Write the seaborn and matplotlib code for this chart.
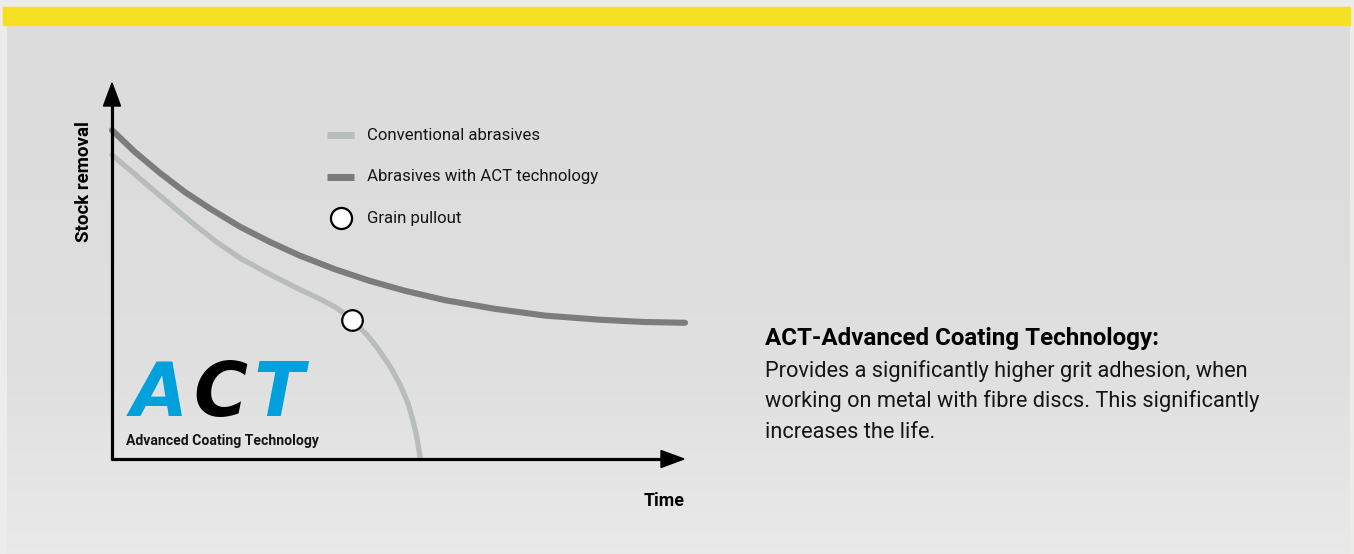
import numpy as np
import pandas as pd
import matplotlib
matplotlib.use("Agg")
import matplotlib.pyplot as plt
import seaborn as sns
from matplotlib.patches import Rectangle, Polygon

# curves (time / stock removal, arbitrary units 0..100)
time_act = [0, 4.0, 8.4, 12.7, 17.1, 22.3, 27.6, 32.8, 38.9, 45.0, 51.1, 58.1,
            66.8, 75.6, 85.2, 93.0, 100]
stock_act = [87.5, 81.7, 76.1, 71.1, 66.7, 61.9, 57.8, 54.2, 50.6, 47.5, 44.9,
             42.4, 40.1, 38.3, 37.2, 36.6, 36.4]

time_conv = [0, 3.3, 6.6, 10.1, 13.6, 18.0, 22.3, 27.6, 32.8, 36.3, 38.9, 40.7,
             41.9, 43.3, 44.5, 46.2, 48.5, 50.3, 51.7, 52.5, 53.2, 53.8]
stock_conv = [80.9, 76.7, 72.4, 67.9, 63.4, 58.1, 53.6, 49.2, 45.2, 42.7, 40.6,
              38.7, 37.1, 35.0, 33.2, 30.0, 24.9, 19.9, 14.9, 10.6, 6.1, 0.5]

pullout_time = [41.9]
pullout_stock = [37.1]

legend_labels = ["Conventional abrasives", "Abrasives with ACT technology", "Grain pullout"]
heading = "ACT-Advanced Coating Technology:"
body_lines = ["Provides a significantly higher grit adhesion, when",
              "working on metal with fibre discs. This significantly",
              "increases the life."]

c_conv = "#b9bcbc"
c_act = "#7b7c7d"
c_blue = "#00a0dc"
c_text = "#151515"

sns.set_theme(style="white")
plt.rcParams["font.family"] = ["Roboto", "DejaVu Sans"]

W, H = 1354, 554
fig = plt.figure(figsize=(W / 100, H / 100), dpi=100, facecolor="#ececeb")

# background panel
bg = fig.add_axes([0, 0, 1, 1], zorder=0)
bg.set_xlim(0, W)
bg.set_ylim(H, 0)
bg.axis("off")
grad = np.linspace(0, 1, 100)[:, None]
bg.imshow(grad, cmap=matplotlib.colors.LinearSegmentedColormap.from_list(
    "g", ["#dcdcdc", "#dddddd", "#e0e0e0", "#e9e9e9"]),
    extent=[7, 1350, 554, 25], aspect="auto", zorder=1)
bg.add_patch(Rectangle((3, 7), 1347, 18, color="#f5e121", zorder=2))

# chart area
ax = fig.add_axes([112 / W, (H - 460) / H, 573 / W, 377 / H], zorder=1)
ax.patch.set_alpha(0)
df_act = pd.DataFrame({"time": time_act, "stock": stock_act})
df_conv = pd.DataFrame({"time": time_conv, "stock": stock_conv})
sns.lineplot(data=df_conv, x="time", y="stock", ax=ax, color=c_conv, linewidth=3.8,
             estimator=None, sort=False, clip_on=False, solid_joinstyle="round")
sns.lineplot(data=df_act, x="time", y="stock", ax=ax, color=c_act, linewidth=4.4,
             estimator=None, sort=False, clip_on=False, solid_joinstyle="round")
sns.scatterplot(x=pullout_time, y=pullout_stock, ax=ax, s=220, color="white",
                edgecolor="black", linewidth=1.6, zorder=5, clip_on=False)
ax.set_xlim(0, 100)
ax.set_ylim(0, 100)
ax.axis("off")

# overlay: axes arrows, legend, texts
ov = fig.add_axes([0, 0, 1, 1], zorder=2)
ov.patch.set_alpha(0)
ov.set_xlim(0, W)
ov.set_ylim(H, 0)
ov.axis("off")

ov.plot([112, 112], [460, 100], color="black", lw=2.3, solid_capstyle="butt")
ov.plot([110.5, 665], [459, 459], color="black", lw=2.3, solid_capstyle="butt")
ov.add_patch(Polygon([[112, 83], [103.5, 106], [120.5, 106]], color="black"))
ov.add_patch(Polygon([[684, 459], [661, 450.5], [661, 467.5]], color="black"))

ov.text(84, 182, "Stock removal", rotation=90, ha="center", va="center",
        fontsize=13.5, fontweight="bold", color="black")
ov.text(685, 501, "Time", ha="right", va="center", fontsize=12.8,
        fontweight="bold", color="black")

# legend
ov.plot([327, 354], [135, 135], color=c_conv, lw=5, solid_capstyle="butt")
ov.plot([327, 354], [177, 177], color=c_act, lw=5, solid_capstyle="butt")
ov.scatter([341], [218], s=230, color="white", edgecolor="black", linewidth=1.6)
for yy, lab in zip([135, 177, 218], legend_labels):
    ov.text(367, yy, lab, ha="left", va="center", fontsize=12.1, color=c_text)

# ACT logo
for xx, ch, col in [(131, "A", c_blue), (193, "C", "black"), (253, "T", c_blue)]:
    ov.text(xx, 416, ch, ha="left", va="baseline", fontsize=53, color=col,
            family="DejaVu Sans", fontweight="heavy", style="oblique")
ov.text(126, 441, "Advanced Coating Technology", ha="left", va="center",
        fontsize=10.1, fontweight="bold", color=c_text)

# description
ov.text(765, 338, heading, ha="left", va="center", fontsize=17.4,
        fontweight="bold", color="black")
for yy, line in zip([371, 401, 432], body_lines):
    ov.text(765, yy, line, ha="left", va="center", fontsize=15.7, color=c_text)

fig.savefig("out.png", dpi=100, facecolor=fig.get_facecolor())
